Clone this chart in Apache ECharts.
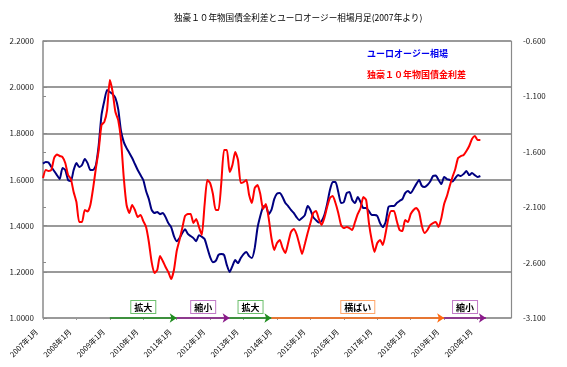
<!DOCTYPE html>
<html><head><meta charset="utf-8">
<script src="https://cdn.jsdelivr.net/npm/echarts@6/dist/echarts.min.js"></script>
<style>html,body{margin:0;padding:0;background:#fff}#c{width:567px;height:367px}</style>
</head><body><div id="c"></div>
<script>
// ---- data ----
const startYear = 2007, endYear = 2021; // axis runs 2007年1月 .. 2021年1月
const titleText = '独豪１０年物国債金利差とユーロオージー相場月足(2007年より)';
const nameEurAud = 'ユーロオージー相場';
const nameSpread = '独豪１０年物国債金利差';
const leftTicks = [1.0, 1.2, 1.4, 1.6, 1.8, 2.0, 2.2];
const rightTicks = [-3.1, -2.6, -2.1, -1.6, -1.1, -0.6];

const eurAud = [
 1.669,1.676,1.674,1.654,1.637,1.619,1.602,1.650,1.641,1.598,
 1.593,1.641,1.671,1.654,1.663,1.689,1.671,1.641,1.641,1.663,
 1.749,1.879,1.940,1.988,1.979,1.970,1.953,1.905,1.810,1.762,
 1.736,1.715,1.693,1.667,1.641,1.619,1.598,1.550,1.515,1.468,
 1.455,1.459,1.450,1.455,1.437,1.411,1.394,1.355,1.333,1.346,
 1.368,1.385,1.364,1.355,1.346,1.333,1.359,1.352,1.342,1.303,
 1.264,1.242,1.247,1.273,1.277,1.273,1.229,1.199,1.225,1.251,
 1.238,1.260,1.277,1.286,1.268,1.260,1.303,1.390,1.442,1.481,
 1.485,1.450,1.468,1.515,1.539,1.541,1.524,1.498,1.485,1.468,
 1.455,1.437,1.424,1.433,1.446,1.485,1.468,1.437,1.424,1.414,
 1.420,1.446,1.494,1.554,1.589,1.589,1.546,1.498,1.502,1.541,
 1.546,1.511,1.498,1.524,1.502,1.476,1.476,1.463,1.446,1.446,
 1.442,1.411,1.394,1.416,1.481,1.485,1.485,1.498,1.507,1.515,
 1.541,1.550,1.541,1.559,1.580,1.598,1.572,1.567,1.576,1.591,
 1.615,1.617,1.598,1.580,1.611,1.602,1.598,1.591,1.606,1.619,
 1.615,1.624,1.637,1.619,1.628,1.619,1.611,1.615
];
const spread = [
 -1.836,-1.764,-1.773,-1.764,-1.656,-1.624,-1.638,-1.647,-1.701,-1.809,
 -1.845,-1.963,-2.053,-2.234,-2.234,-2.125,-2.139,-2.080,-1.927,-1.746,
 -1.584,-1.358,-1.331,-1.223,-0.952,-1.060,-1.241,-1.313,-1.493,-1.836,
 -2.080,-2.152,-2.080,-2.125,-2.188,-2.170,-2.225,-2.279,-2.414,-2.595,
 -2.694,-2.667,-2.540,-2.586,-2.640,-2.685,-2.748,-2.667,-2.495,-2.396,
 -2.288,-2.179,-2.161,-2.161,-2.243,-2.206,-2.279,-2.351,-2.080,-1.855,
 -1.882,-1.981,-2.125,-2.125,-1.882,-1.584,-1.584,-1.782,-1.719,-1.602,
 -1.674,-1.882,-1.873,-1.855,-1.990,-2.062,-1.927,-1.900,-1.981,-2.116,
 -2.071,-2.197,-2.378,-2.486,-2.423,-2.396,-2.468,-2.513,-2.423,-2.324,
 -2.297,-2.342,-2.432,-2.522,-2.432,-2.333,-2.243,-2.152,-2.134,-2.206,
 -2.261,-2.197,-2.098,-2.017,-1.999,-2.062,-2.152,-2.261,-2.288,-2.279,
 -2.288,-2.306,-2.234,-2.161,-2.107,-2.008,-2.035,-2.243,-2.396,-2.504,
 -2.423,-2.396,-2.441,-2.333,-2.197,-2.134,-2.134,-2.225,-2.306,-2.315,
 -2.216,-2.234,-2.161,-2.125,-2.107,-2.143,-2.270,-2.333,-2.306,-2.261,
 -2.243,-2.234,-2.279,-2.197,-2.071,-1.999,-1.909,-1.827,-1.755,-1.656,
 -1.638,-1.629,-1.593,-1.548,-1.484,-1.457,-1.493,-1.493
];

// annotated phases along the bottom
const phaseStart = ['2009年1月','2011年1月','2012年8月','2013年11月','2019年1月'];
const phaseEnd   = ['2011年1月','2012年8月','2013年11月','2019年1月','2020年4月'];
const phaseLabel = ['拡大','縮小','拡大','横ばい','縮小'];

// ---- styles ----
const phaseLineColor = {'拡大':'#1e8c1e','縮小':'#8a1a8a','横ばい':'#ff6a10'};
const phaseBoxColor  = {'拡大':'#6cbf6c','縮小':'#c27ac8','横ばい':'#ffa66a'};
const FONT = '"Noto Sans CJK JP", "Noto Sans", sans-serif';

const categories = [];
for (let y = startYear; y <= endYear; y++) {
  for (let m = 1; m <= 12; m++) {
    if (y === endYear && m > 1) break;
    categories.push(y + '年' + m + '月');
  }
}
const isYearStart = (i) => i % 12 === 0 && i < categories.length - 1;

const markData = phaseLabel.map((lab, k) => [
  { coord: [phaseStart[k], leftTicks[0]], name: lab,
    lineStyle: { color: phaseLineColor[lab], width: 1.6, type: 'solid' },
    label: { borderColor: phaseBoxColor[lab] } },
  { coord: [phaseEnd[k], leftTicks[0]] }
]);

const chart = echarts.init(document.getElementById('c'), null, {renderer: 'canvas'});
chart.setOption({
  animation: false,
  backgroundColor: '#ffffff',
  textStyle: { fontFamily: FONT },
  title: {
    text: titleText, left: 169, top: 8,
    textStyle: { fontSize: 8.6, fontWeight: 'normal', color: '#000', fontFamily: FONT }
  },
  legend: {
    orient: 'vertical', left: 357, top: 44, itemGap: 12,
    icon: 'rect', itemWidth: 0, itemHeight: 0, selectedMode: false,
    textStyle: { fontSize: 9, fontWeight: 'bold', fontFamily: FONT },
    data: [
      { name: nameEurAud, textStyle: { color: '#0000ee' } },
      { name: nameSpread, textStyle: { color: '#ff0000' } }
    ]
  },
  grid: { left: 43, right: 56, top: 41, bottom: 49 },
  xAxis: {
    type: 'category', data: categories, boundaryGap: false,
    axisLine: { show: false },
    axisTick: { show: true, interval: isYearStart, length: 2, lineStyle: { color: '#999' } },
    axisLabel: {
      interval: isYearStart, rotate: 45, fontSize: 7.5, color: '#000',
      margin: 6, padding: [0, 9, 0, 0], fontFamily: FONT
    },
    splitLine: { show: false }
  },
  yAxis: [
    {
      type: 'value', position: 'left', min: leftTicks[0], max: leftTicks[leftTicks.length - 1], interval: 0.2,
      axisLine: { show: true, lineStyle: { color: '#8a8a8a', width: 1.5 } },
      axisTick: { show: true, inside: true, length: 4, lineStyle: { color: '#8a8a8a' } },
      axisLabel: { fontSize: 8, color: '#222', margin: 9, formatter: v => v.toFixed(4), fontFamily: FONT },
      splitLine: {
        show: true,
        lineStyle: { color: '#9a9a9a', width: 2 },
        interval: (i) => i > 0 && i < leftTicks.length - 1
      }
    },
    {
      type: 'value', position: 'right', min: rightTicks[0], max: rightTicks[rightTicks.length - 1], interval: 0.5,
      axisLine: { show: true, lineStyle: { color: '#8a8a8a', width: 1.2 } },
      axisTick: { show: false },
      axisLabel: { fontSize: 8, color: '#222', margin: 12, formatter: v => v.toFixed(3), fontFamily: FONT },
      splitLine: { show: false }
    },
    {
      type: 'value', position: 'left', offset: 0, min: rightTicks[0], max: rightTicks[rightTicks.length - 1], interval: 0.5,
      axisLine: { show: false },
      axisTick: { show: true, inside: true, length: 3, lineStyle: { color: '#8a8a8a' } },
      axisLabel: { show: false },
      splitLine: { show: false }
    }
  ],
  series: [
    {
      name: nameEurAud, type: 'line', yAxisIndex: 0, data: eurAud,
      symbol: 'none', smooth: 0.2,
      lineStyle: { color: '#000080', width: 2 }, itemStyle: { color: '#000080' }, z: 3
    },
    {
      name: nameSpread, type: 'line', yAxisIndex: 1, data: spread,
      symbol: 'none', smooth: 0.2,
      lineStyle: { color: '#ff0000', width: 2 }, itemStyle: { color: '#ff0000' }, z: 4
    },
    {
      name: 'phases', type: 'line', yAxisIndex: 0, data: [], clip: false, silent: true,
      markLine: {
        silent: true, symbol: ['none', 'arrow'], symbolSize: 7,
        label: {
          show: true, position: 'middle', formatter: '{b}', distance: 5,
          color: '#000', fontSize: 9, fontWeight: 'bold', fontFamily: FONT,
          backgroundColor: '#fff', borderWidth: 1, padding: [2, 3, 1, 3]
        },
        emphasis: { disabled: true },
        data: markData
      }
    }
  ]
});
</script></body></html>
